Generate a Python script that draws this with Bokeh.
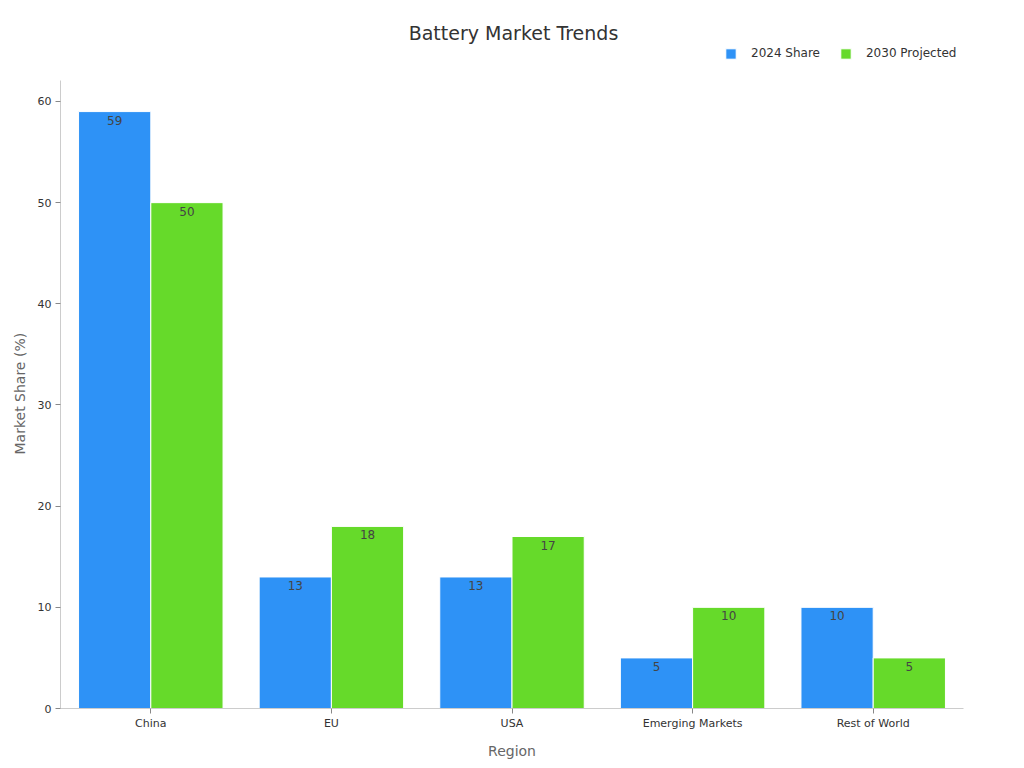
from bokeh.plotting import figure
from bokeh.models import ColumnDataSource, FactorRange, Range1d, Legend, LegendItem, Label, Title, SingleIntervalTicker, LabelSet
from bokeh.transform import dodge
from bokeh.embed import file_html
from bokeh.resources import INLINE
from bokeh.core.properties import value

regions = ["China", "EU", "USA", "Emerging Markets", "Rest of World"]
share_2024 = [59, 13, 13, 5, 10]
proj_2030 = [50, 18, 17, 10, 5]
series_names = ["2024 Share", "2030 Projected"]
chart_title = "Battery Market Trends"
y_label = "Market Share (%)"
x_label = "Region"

BLUE = "#2e92f6"
GREEN = "#66da2a"
FONT = "DejaVu Sans"
Y_TOP = 62.1      # top of the value axis
Y_VIEW = 69.19    # extra headroom inside the frame for title and legend

src = ColumnDataSource(dict(region=regions, a=share_2024, b=proj_2030,
                            a_lbl=[str(v) for v in share_2024],
                            b_lbl=[str(v) for v in proj_2030]))

p = figure(x_range=FactorRange(*regions), y_range=Range1d(0, Y_VIEW),
           width=1016, height=761, output_backend="svg", toolbar_location=None,
           min_border_left=60, min_border_right=53, min_border_top=8, min_border_bottom=50)
p.outline_line_color = None
p.xgrid.grid_line_color = None
p.ygrid.grid_line_color = None

r1 = p.vbar(x=dodge("region", -0.2, range=p.x_range), top="a", width=0.4, source=src,
            fill_color=BLUE, line_color="white", line_width=1)
r2 = p.vbar(x=dodge("region", 0.2, range=p.x_range), top="b", width=0.4, source=src,
            fill_color=GREEN, line_color="white", line_width=1)

for col, lbl, off in (("a", "a_lbl", -0.2), ("b", "b_lbl", 0.2)):
    ls = LabelSet(x=dodge("region", off, range=p.x_range), y=col, text=lbl, source=src,
                  text_align="center", text_baseline="top", y_offset=-4,
                  text_font=value(FONT), text_font_size="12px", text_color="#444444")
    p.add_layout(ls)

for ax in (p.xaxis, p.yaxis):
    ax.axis_line_color = "#cccccc"
    ax.major_tick_line_color = "#888888"
    ax.minor_tick_line_color = None
    ax.major_tick_out = 5
    ax.major_tick_in = 0
    ax.major_label_text_font = FONT
    ax.major_label_text_font_size = "11px"
    ax.major_label_text_color = "#333333"
    ax.axis_label_text_font = FONT
    ax.axis_label_text_font_size = "14px"
    ax.axis_label_text_font_style = "normal"
    ax.axis_label_text_color = "#666666"

p.yaxis.ticker = SingleIntervalTicker(interval=10)
p.yaxis.bounds = (0, Y_TOP)
p.xaxis.axis_label = x_label
p.xaxis.major_label_standoff = 3
p.yaxis.major_label_standoff = 4
p.xaxis.axis_label_standoff = 10

# y-axis title centred on the bounded axis line (not on the whole frame)
ytitle = Title(text=y_label, align="left", offset=254, standoff=14,
               text_font=FONT, text_font_size="14px", text_font_style="normal",
               text_color="#666666")
p.add_layout(ytitle, "left")

title = Label(x=453, y=676, x_units="screen", y_units="screen", text=chart_title,
              text_align="center", text_baseline="middle", text_font=FONT,
              text_font_size="19px", text_color="#333333")
p.add_layout(title)

legend = Legend(items=[LegendItem(label=series_names[0], renderers=[r1]),
                       LegendItem(label=series_names[1], renderers=[r2])],
                orientation="horizontal", location=(664, 648),
                label_text_font=FONT, label_text_font_size="12px", label_text_color="#333333",
                glyph_width=13, glyph_height=13, spacing=19, label_standoff=14,
                background_fill_alpha=0, border_line_color=None, padding=0, margin=0)
p.add_layout(legend, "center")

open("out.html", "w").write(file_html(p, INLINE))
